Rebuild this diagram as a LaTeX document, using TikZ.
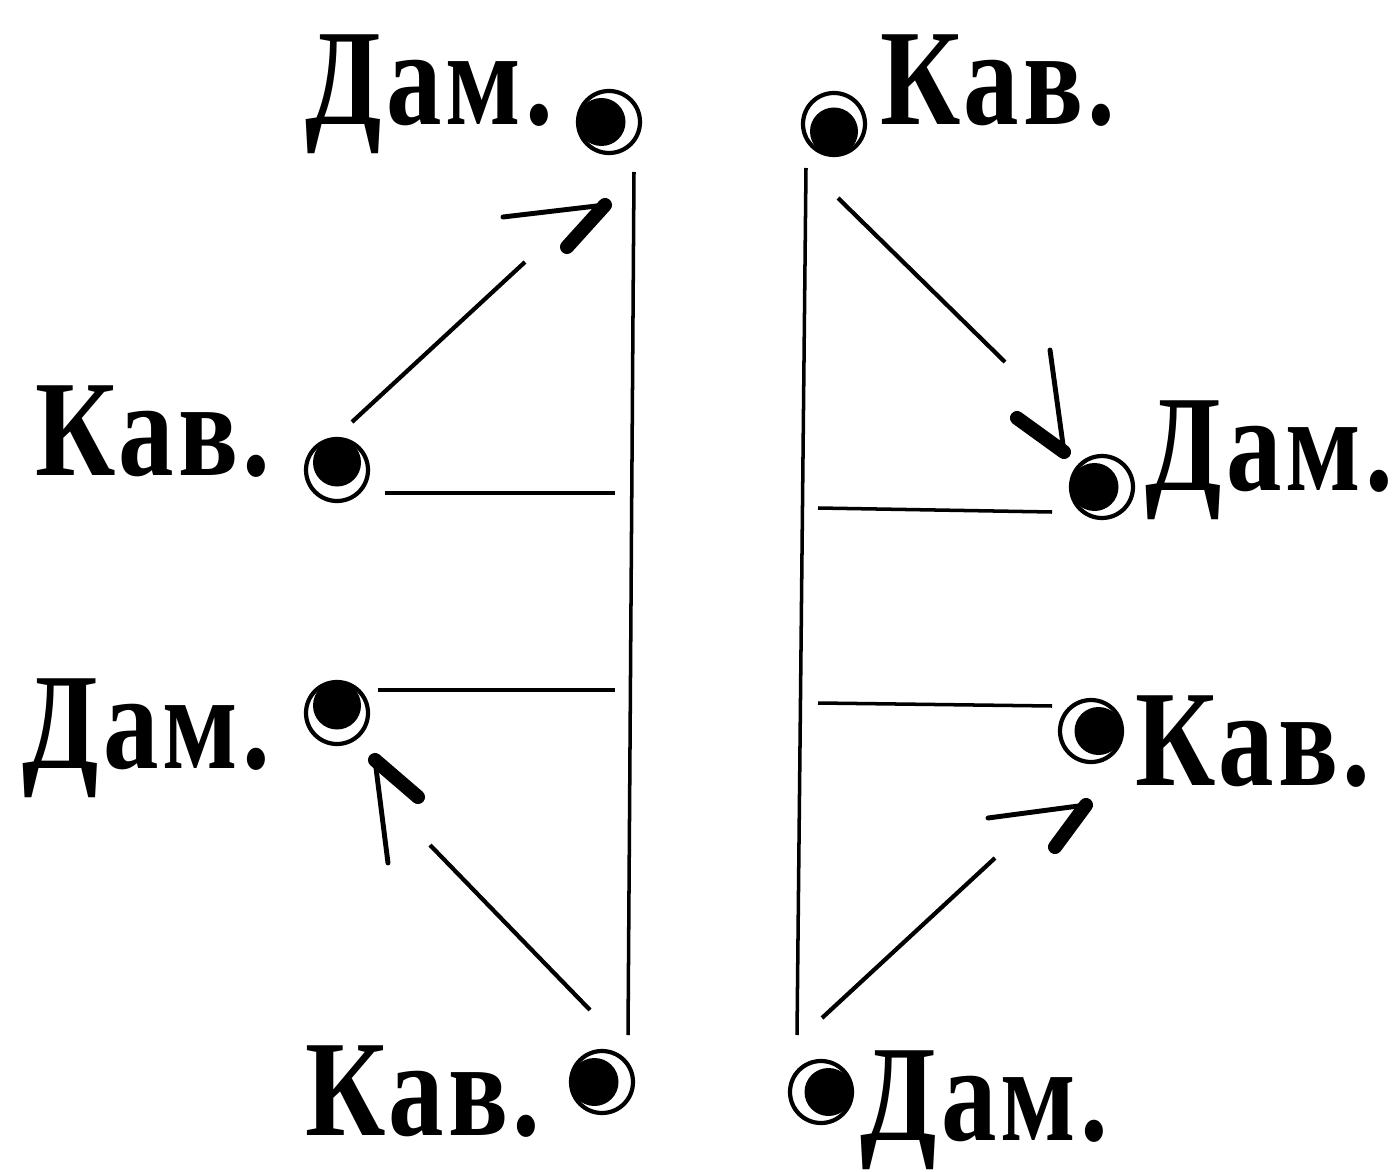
\documentclass[tikz,border=0pt]{standalone}
\usepackage{fontspec}
\setmainfont{Liberation Serif}
\newfontfamily\lblfont[FakeStretch=0.81, LetterSpace=3]{Liberation Serif}
\usetikzlibrary{calc,positioning}

\tikzset{
  lbl/.style={font=\lblfont\bfseries\fontsize{39}{42}\selectfont, inner sep=0pt, anchor=base west},
  ring/.style={circle, draw, line width=1.2pt, minimum size=0.62cm, inner sep=0pt},
  rule/.style={line width=1pt},
  shaft/.style={line width=1.2pt},
  thinbarb/.style={line width=1.4pt, line cap=round},
  thickbarb/.style={line width=4pt, line cap=round}
}

% marker: ring with a dark disc pushed to one side
\newcommand{\dancer}[3]{%
  \node[ring] (#1) at (#2) {};
  \fill ([shift={(#3:0.075)}]#1.center) circle (0.24);
}

\begin{document}
\begin{tikzpicture}
\useasboundingbox (0,0) rectangle (13.97,11.71);

% dancers
\dancer{mdt}{6.09,10.49}{180}
\dancer{mkt}{8.34,10.47}{270}
\dancer{mkl}{3.37,7.01}{90}
\dancer{mdr}{11.02,6.84}{180}
\dancer{mdl}{3.37,4.58}{90}
\dancer{mkr}{10.91,4.40}{0}
\dancer{mkb}{6.02,0.89}{180}
\dancer{mdb}{8.21,0.79}{0}

% labels
\node[lbl] (dtl) at (3.05,10.46) {Дам.};
\node[lbl] (ktr) at (8.80,10.46) {Кав.};
\node[lbl] (kl)  at (0.35,6.96)  {Кав.};
\node[lbl] (dr)  at (11.45,6.81) {Дам.};
\node[lbl] (dl)  at (0.22,4.03)  {Дам.};
\node[lbl] (kr)  at (11.35,3.86) {Кав.};
\node[lbl] (kbl) at (3.05,0.36)  {Кав.};
\node[lbl] (dbr) at (8.60,0.31)  {Дам.};

% walls of the two rows
\coordinate (vlt) at (6.34,9.99);
\coordinate (vlb) at (6.28,1.36);
\coordinate (vrt) at (8.06,10.03);
\coordinate (vrb) at (7.97,1.36);
\draw[rule] (vlt) -- (vlb);
\draw[rule] (vrt) -- (vrb);

% cross rules
\coordinate (h1a) at (3.85,6.78);  \coordinate (h1b) at (6.15,6.78);
\coordinate (h2a) at (3.78,4.81);  \coordinate (h2b) at (6.15,4.81);
\coordinate (h3a) at (8.18,6.63);  \coordinate (h3b) at (10.52,6.59);
\coordinate (h4a) at (8.18,4.68);  \coordinate (h4b) at (10.52,4.65);
\draw[rule] (h1a) -- (h1b);
\draw[rule] (h2a) -- (h2b);
\draw[rule] (h3a) -- (h3b);
\draw[rule] (h4a) -- (h4b);

% moves: shaft, then a loose half-head
\coordinate (a1s) at (3.52,7.49);  \coordinate (a1e) at (5.25,9.09);
\coordinate (a1p) at (6.05,9.66);  \coordinate (a1n) at (5.03,9.54);  \coordinate (a1k) at (5.67,9.24);
\coordinate (a2s) at (8.38,9.73);  \coordinate (a2e) at (10.05,8.09);
\coordinate (a2p) at (10.64,7.19); \coordinate (a2n) at (10.50,8.21); \coordinate (a2k) at (10.17,7.53);
\coordinate (a3s) at (5.90,1.61);  \coordinate (a3e) at (4.30,3.26);
\coordinate (a3p) at (3.75,4.11);  \coordinate (a3n) at (3.88,3.08);  \coordinate (a3k) at (4.18,3.74);
\coordinate (a4s) at (8.22,1.53);  \coordinate (a4e) at (9.95,3.13);
\coordinate (a4p) at (10.86,3.66); \coordinate (a4n) at (9.88,3.53);  \coordinate (a4k) at (10.55,3.24);

\foreach \a in {a1,a2,a3,a4} {
  \draw[shaft] (\a s) -- (\a e);
  \draw[thinbarb] (\a n) -- (\a p);
  \draw[thickbarb] (\a k) -- (\a p);
}
\end{tikzpicture}
\end{document}
